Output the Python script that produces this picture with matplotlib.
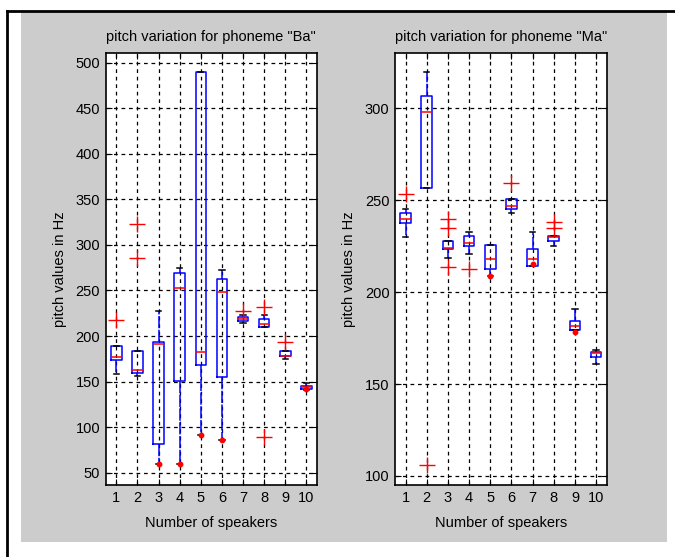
import matplotlib.pyplot as plt
import matplotlib.patches as patches
from matplotlib.lines import Line2D

plt.rcParams['font.family'] = ['Liberation Sans', 'DejaVu Sans']

speakers = [1, 2, 3, 4, 5, 6, 7, 8, 9, 10]

# phoneme "Ba"
ba_q1 = [173.8, 159.5, 82, 151, 168, 155.5, 216.3, 210, 177.8, 142.3]
ba_med = [177.5, 162.5, 191, 252.5, 182, 248.5, 218.9, 213, 178.6, 144]
ba_q3 = [188.5, 183.7, 193, 269, 490, 262.6, 221.4, 218.5, 183.7, 145.6]
ba_lo = [158, 156.6, 59, 59, 91, 85.5, 214, 210, 175, 140.8]
ba_hi = [189, 183.7, 228, 275, 490, 272.6, 223, 223, 183.7, 148]
ba_plus_x = [1, 2, 2, 7, 8, 8, 9]
ba_plus_y = [218, 323, 285.5, 228, 232, 89, 193]
ba_dot_x = [3, 4, 5, 6, 10]
ba_dot_y = [59, 59, 91, 85.5, 142]

# phoneme "Ma"
ma_q1 = [237.7, 256.9, 223.5, 225.3, 212.5, 245.3, 214.4, 227.6, 179.3, 164.9]
ma_med = [239.7, 298.2, 224.2, 226.7, 218, 246.6, 218, 230, 181.5, 167]
ma_q3 = [242.8, 306.9, 227.6, 230.3, 225.5, 250.7, 223.5, 230.3, 184.4, 167.4]
ma_lo = [230.1, 256.9, 218.6, 220.6, 208.7, 242.8, 214.4, 225.3, 179.3, 161]
ma_hi = [245.3, 320, 227.6, 232.5, 225.5, 250.7, 232.5, 230.3, 190.6, 168.7]
ma_plus_x = [1, 2, 3, 3, 3, 4, 6, 8, 8]
ma_plus_y = [253.4, 106, 239.7, 235, 213.9, 212.6, 259.6, 237.9, 235]
ma_dot_x = [5, 7, 9]
ma_dot_y = [208.7, 215.2, 178.6]

fig = plt.figure(figsize=(6.75, 5.57), dpi=100)
fig.patch.set_facecolor('white')

# gray panel + black frame (screenshot border)
W, H = 675.0, 557.0
fig.patches.append(patches.Rectangle((21 / W, 1 - 542 / H), (667 - 21) / W, (542 - 12) / H,
                                     transform=fig.transFigure, facecolor='#cccccc',
                                     edgecolor='none', zorder=-5))
fig.lines.append(Line2D([7 / W, 7 / W], [0, 1 - 11 / H], transform=fig.transFigure,
                        color='black', lw=2, zorder=-4))
fig.lines.append(Line2D([7 / W, 1], [1 - 11 / H, 1 - 11 / H], transform=fig.transFigure,
                        color='black', lw=2, zorder=-4))

fs = 10.5


def draw(ax, q1, med, q3, lo, hi, px, py, dx, dy, title, ylim, yticks):
    stats = []
    for i in range(len(speakers)):
        stats.append(dict(med=med[i], q1=q1[i], q3=q3[i], whislo=lo[i], whishi=hi[i], fliers=[]))
    ax.bxp(stats, positions=speakers, widths=0.5, capwidths=0.25, showfliers=False,
           boxprops=dict(color='blue', lw=1.1),
           medianprops=dict(color='red', lw=1.1),
           whiskerprops=dict(color='blue', lw=1.1, linestyle=(0, (8, 1))),
           capprops=dict(color='black', lw=1.1))
    ax.plot(px, py, '+', color='red', ms=11, mew=1.0, zorder=5)
    ax.plot(dx, dy, 'o', color='red', ms=3.2, zorder=5)
    ax.set_facecolor('white')
    ax.set_xlim(0.5, 10.5)
    ax.set_ylim(*ylim)
    ax.set_xticks(speakers)
    ax.set_xticklabels([str(s) for s in speakers])
    ax.set_yticks(yticks)
    ax.grid(True, color='black', linestyle=(0, (3, 3)), lw=0.9)
    ax.set_axisbelow(True)
    ax.tick_params(direction='in', top=True, right=True, length=4, labelsize=fs, pad=4)
    for s in ax.spines.values():
        s.set_linewidth(1.2)
    ax.set_title(title, fontsize=fs, pad=9)
    ax.set_xlabel('Number of speakers', fontsize=fs, labelpad=8)
    ax.set_ylabel('pitch values in Hz', fontsize=fs, labelpad=6)


ax1 = fig.add_axes([105.7 / W, 1 - 485 / H, (317 - 105.7) / W, (485 - 53) / H])
draw(ax1, ba_q1, ba_med, ba_q3, ba_lo, ba_hi, ba_plus_x, ba_plus_y, ba_dot_x, ba_dot_y,
     'pitch variation for phoneme "Ba"', (36.5, 510.6), [50, 100, 150, 200, 250, 300, 350, 400, 450, 500])

ax2 = fig.add_axes([395 / W, 1 - 485 / H, (606.7 - 395) / W, (485 - 53) / H])
draw(ax2, ma_q1, ma_med, ma_q3, ma_lo, ma_hi, ma_plus_x, ma_plus_y, ma_dot_x, ma_dot_y,
     'pitch variation for phoneme "Ma"', (95.1, 330.1), [100, 150, 200, 250, 300])

fig.savefig('out.png', dpi=100)
